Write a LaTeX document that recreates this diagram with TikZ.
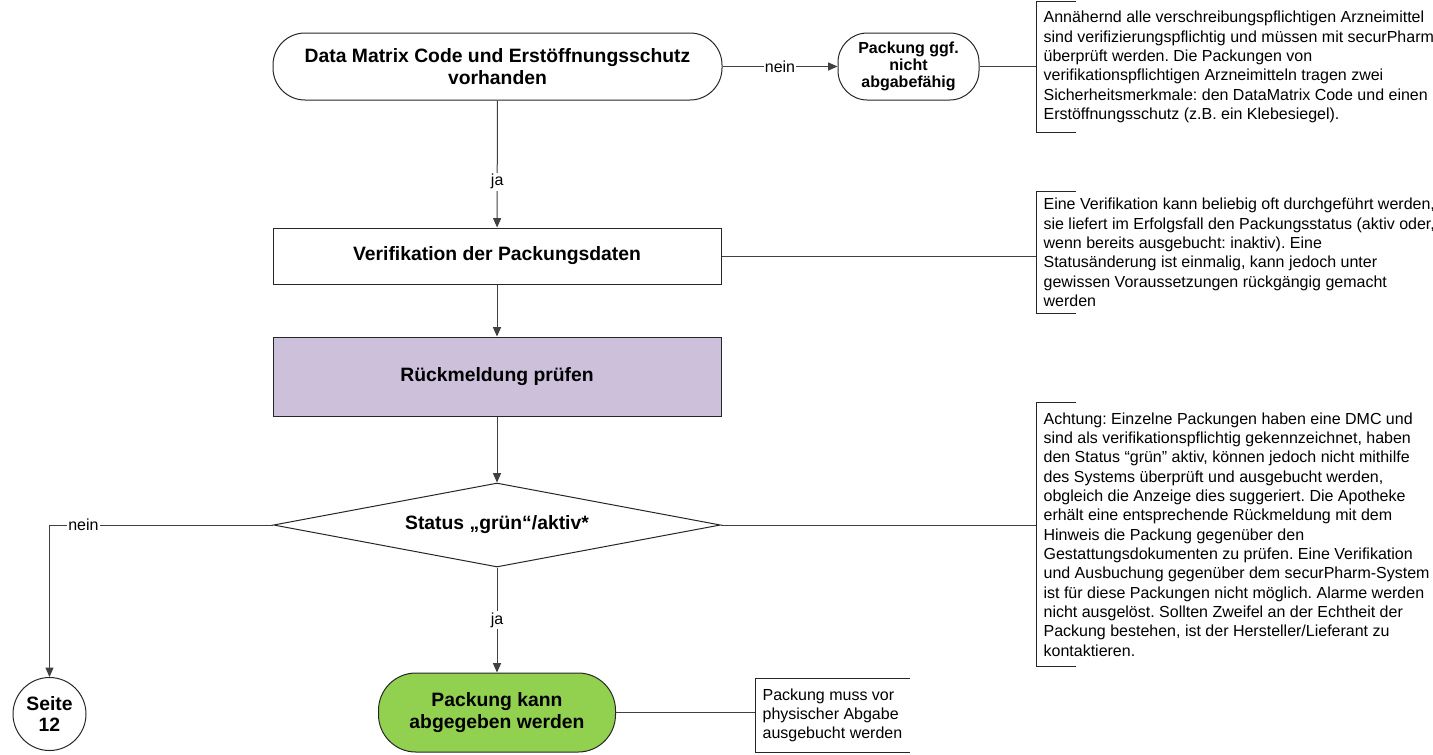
\documentclass[tikz,border=0pt]{standalone}
\usepackage{fontspec}
\setmainfont{Liberation Sans}
\usetikzlibrary{shapes.geometric,arrows.meta,calc}
\definecolor{lav}{HTML}{CCC0DA}
\definecolor{grn}{HTML}{92D050}
\frenchspacing
\begin{document}
\begin{tikzpicture}[x=0.75pt,y=-0.75pt,
 conn/.style={draw=black!75, line width=0.75pt},
 arr/.style={conn,-{Triangle[length=7pt,width=6pt]}},
 bold/.style={font=\fontsize{14.5}{16}\selectfont\bfseries},
 term/.style={draw=black!85, line width=0.75pt, rounded corners=24pt, align=center, bold, inner sep=0pt},
 proc/.style={draw=black!85, line width=0.75pt, align=center, bold, inner sep=0pt},
 dec/.style={diamond, draw=black!85, line width=0.75pt, aspect=5.3, inner sep=0pt, align=center, bold, minimum width=335.25pt, minimum height=63pt},
 note/.style={align=left, anchor=west, font=\fontsize{12}{14.5}\selectfont, inner xsep=5.5pt, inner ysep=0pt},
 bracket/.style={draw=black!85, line width=0.75pt},
 lbl/.style={fill=white, inner sep=1pt, font=\fontsize{12}{14}\selectfont},
]
\useasboundingbox (0,0) rectangle (1433,754);

% main nodes
\node[term, minimum width=336.75pt, minimum height=50.25pt] (top) at (497.5,66.5)
  {Data Matrix Code und Erstöffnungsschutz\\vorhanden};
\node[term, rounded corners=22pt, minimum width=105.75pt, minimum height=50.25pt,
  font=\fontsize{12}{13}\selectfont\bfseries] (ggf) at (908.5,66.5)
  {Packung ggf.\\nicht\\abgabefähig};
\node[proc, minimum width=336pt, minimum height=42pt] (verif) at (497,256)
  {Verifikation der Packungsdaten};
\node[proc, fill=lav, minimum width=336pt, minimum height=59.25pt] (rueck) at (497,376.5)
  {Rückmeldung prüfen};
\node[dec] (dec) at (497,525) {Status „grün“/aktiv*};
\node[term, fill=grn, rounded corners=28pt, minimum width=177.75pt, minimum height=59.25pt] (green) at (497,712.5)
  {Packung kann\\abgegeben werden};
\node[circle, draw=black!85, line width=0.75pt, minimum size=54.75pt, inner sep=0pt, align=center, bold] (seite) at (49.5,714)
  {Seite\\12};

% notes
\node[note, minimum height=97.5pt] (n1) at (1036,67)
  {Annähernd alle verschreibungspflichtigen Arzneimittel\\
   sind verifizierungspflichtig und müssen mit securPharm\\
   überprüft werden. Die Packungen von\\
   verifikationspflichtigen Arzneimitteln tragen zwei\\
   Sicherheitsmerkmale: den DataMatrix Code und einen\\
   Erstöffnungsschutz (z.B. ein Klebesiegel).};
\node[note, minimum height=90.75pt] (n2) at (1036,252.5)
  {Eine Verifikation kann beliebig oft durchgeführt werden,\\
   sie liefert im Erfolgsfall den Packungsstatus (aktiv oder,\\
   wenn bereits ausgebucht: inaktiv). Eine\\
   Statusänderung ist einmalig, kann jedoch unter\\
   gewissen Voraussetzungen rückgängig gemacht\\
   werden};
\node[note, minimum height=197.25pt] (n3) at (1036,534.5)
  {Achtung: Einzelne Packungen haben eine DMC und\\
   sind als verifikationspflichtig gekennzeichnet, haben\\
   den Status “grün” aktiv, können jedoch nicht mithilfe\\
   des Systems überprüft und ausgebucht werden,\\
   obgleich die Anzeige dies suggeriert. Die Apotheke\\
   erhält eine entsprechende Rückmeldung mit dem\\
   Hinweis die Packung gegenüber den\\
   Gestattungsdokumenten zu prüfen. Eine Verifikation\\
   und Ausbuchung gegenüber dem securPharm-System\\
   ist für diese Packungen nicht möglich. Alarme werden\\
   nicht ausgelöst. Sollten Zweifel an der Echtheit der\\
   Packung bestehen, ist der Hersteller/Lieferant zu\\
   kontaktieren.};
\node[note, minimum height=54.75pt] (n4) at (755,715.5)
  {Packung muss vor\\physischer Abgabe\\ausgebucht werden};

% brackets
\foreach \n in {n1,n2,n3}{
  \draw[bracket] ($(\n.north west)+(30pt,0)$) -- (\n.north west) -- (\n.south west) -- ($(\n.south west)+(30pt,0)$);
}
\draw[bracket] ($(n4.north west)+(116.25pt,0)$) -- (n4.north west) -- (n4.south west) -- ($(n4.south west)+(116.25pt,0)$);

% connectors
\draw[arr] (top) -- node[lbl, pos=0.64] {ja} (verif);
\draw[arr] (top) -- node[lbl] {nein} (ggf);
\draw[conn] (ggf.east) -- (ggf.east -| n1.west);
\draw[arr] (verif) -- (rueck);
\draw[conn] (verif.east) -- (verif.east -| n2.west);
\draw[arr] (rueck) -- (dec);
\draw[conn] (dec.east) -- (dec.east -| n3.west);
\draw[arr] (dec.west) -| node[lbl, pos=0.424] {nein} (seite);
\draw[arr] (dec) -- node[lbl] {ja} (green);
\draw[conn] (green.east) -- (green.east -| n4.west);
\end{tikzpicture}
\end{document}
